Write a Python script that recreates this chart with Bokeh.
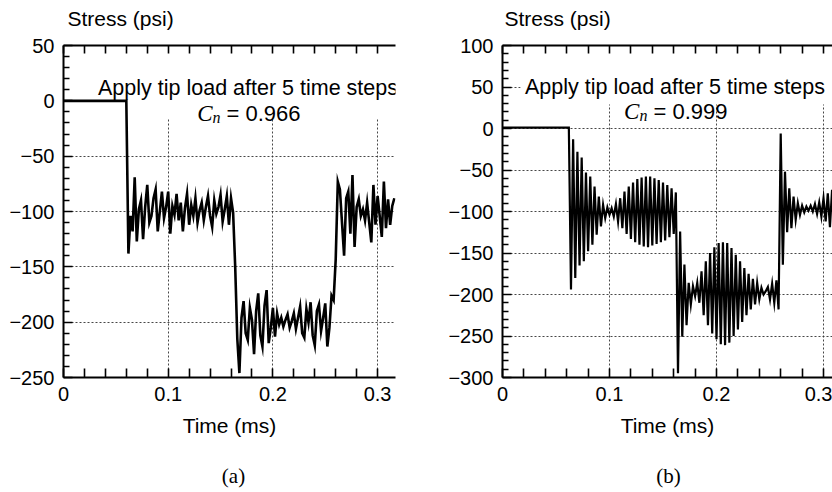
from bokeh.plotting import figure
from bokeh.models import LinearAxis, FixedTicker, Range1d, Label, BoxAnnotation, ColumnDataSource
from bokeh.layouts import row, column
from bokeh.embed import file_html
from bokeh.resources import INLINE

# ---------------- data ----------------
TIME_STEP_MS = 0.002

# Panel (a): C_n = 0.966
STRESS_A = [
    0, 0, 0, 0, 0, 0, 0, 0, 0, 0,
    0, 0, 0, 0, 0, 0, 0, 0, 0, 0,
    0, 0, 0, 0, 0, 0, 0, 0, 0, 0,
    0, -138, -104, -118, -69, -127, -98, -90, -125, -96,
    -76, -110, -104, -88, -80, -118, -100, -82, -106, -96,
    -82, -120, -95, -103, -84, -108, -92, -118, -97, -84,
    -112, -94, -104, -88, -110, -99, -92, -108, -96, -86,
    -104, -114, -90, -102, -96, -85, -109, -98, -86, -112,
    -88, -101, -150, -215, -246, -196, -181, -210, -216, -187,
    -198, -229, -190, -174, -212, -222, -185, -171, -219, -205,
    -187, -213, -192, -202, -196, -204, -198, -193, -205, -199,
    -192, -206, -196, -186, -210, -214, -188, -200, -182, -212,
    -221, -190, -184, -208, -196, -183, -222, -205, -176, -180,
    -143, -73, -80, -110, -140, -88, -82, -120, -67, -132,
    -96, -89, -104, -98, -108, -92, -110, -128, -76, -112,
    -86, -104, -123, -73, -115, -89, -112, -95, -88,
]

# Panel (b): C_n = 0.999
STRESS_B = [
    1, 1, 1, 1, 1, 1, 1, 1, 1, 1,
    1, 1, 1, 1, 1, 1, 1, 1, 1, 1,
    1, 1, 1, 1, 1, 1, 1, 1, 1, 1,
    1, 1, -194, -13, -180, -28, -165, -35, -160, -53,
    -148, -58, -140, -70, -128, -82, -118, -92, -108, -95,
    -104, -96, -106, -91, -112, -84, -120, -76, -127, -70,
    -133, -65, -137, -61, -140, -59, -142, -58, -143, -58,
    -141, -60, -139, -62, -137, -65, -135, -68, -131, -72,
    -127, -77, -295, -124, -251, -164, -237, -186, -212, -190,
    -202, -186, -210, -172, -225, -160, -237, -150, -247, -143,
    -254, -138, -260, -137, -261, -138, -258, -144, -250, -152,
    -242, -160, -233, -168, -225, -175, -218, -181, -212, -186,
    -206, -192, -200, -196, -191, -206, -187, -210, -183, -218,
    -6, -164, -52, -125, -72, -120, -82, -110, -90, -104,
    -93, -101, -94, -99, -93, -100, -91, -103, -89, -106,
    -84, -112, -78, -119, -74, -122,
]

X_TICKS = [0, 0.1, 0.2, 0.3]
X_TICK_LABELS = ["0", "0.1", "0.2", "0.3"]
X_MINOR_TICKS = [0.02, 0.04, 0.06, 0.08, 0.12, 0.14, 0.16, 0.18,
                 0.22, 0.24, 0.26, 0.28, 0.32]

Y_TICKS_A = [50, 0, -50, -100, -150, -200, -250]
Y_TICK_LABELS_A = ["50", "0", "\u221250", "\u2212100", "\u2212150", "\u2212200", "\u2212250"]
Y_TICKS_B = [100, 50, 0, -50, -100, -150, -200, -250, -300]
Y_TICK_LABELS_B = ["100", "50", "0", "\u221250", "\u2212100", "\u2212150",
                   "\u2212200", "\u2212250", "\u2212300"]

TITLE = "Apply tip load after 5 time steps"
CN_A = "= 0.966"
CN_B = "= 0.999"
Y_LABEL = "Stress (psi)"
X_LABEL = "Time (ms)"

SANS = "Liberation Sans"
SERIF = "Liberation Serif"

TOP_H = 30
MAIN_H = 420
BOT_H = 42


def minor_y(ticks):
    lo, hi = min(ticks), max(ticks)
    return [v for v in range(lo, hi + 1, 10) if v % 50 != 0]


def text_strip(width, height, text, x, y, align, font, size):
    """A bare canvas (pixel coordinates, y up) holding one line of text."""
    s = figure(width=width, height=height, output_backend="svg", toolbar_location=None,
               x_range=Range1d(0, width), y_range=Range1d(0, height),
               x_axis_type=None, y_axis_type=None, title=None,
               min_border=0, min_border_left=0, min_border_right=0,
               min_border_top=0, min_border_bottom=0)
    s.outline_line_color = None
    s.background_fill_color = "white"
    s.border_fill_color = "white"
    s.add_layout(Label(x=x, y=y, text=text, text_align=align, text_baseline="alphabetic",
                       text_font=font, text_font_size=size, text_color="black"))
    return s


def make_panel(stress, yticks, ylabels, xr, yr, width, border_left, border_right,
               border_top, border_bottom, box_left, box_bottom,
               title_xy, cn_xy, cn_text, lw):
    t = [round(i * TIME_STEP_MS, 4) for i in range(len(stress))]
    src = ColumnDataSource(dict(t=t, s=stress))

    p = figure(width=width, height=MAIN_H, output_backend="svg", toolbar_location=None,
               x_range=Range1d(*xr), y_range=Range1d(*yr), title=None,
               min_border_left=border_left, min_border_right=border_right,
               min_border_top=border_top, min_border_bottom=border_bottom)
    p.outline_line_color = None
    p.background_fill_color = "white"
    p.border_fill_color = "white"

    # grids
    p.xgrid.ticker = FixedTicker(ticks=[v for v in X_TICKS if v != 0])
    p.ygrid.ticker = FixedTicker(ticks=yticks[1:-1])
    for g in (p.xgrid[0], p.ygrid[0]):
        g.grid_line_color = "#333333"
        g.grid_line_dash = "2 2"
        g.grid_line_width = 1
        g.grid_line_alpha = 0.9

    # white box behind annotation text
    p.add_layout(BoxAnnotation(left=box_left, bottom=box_bottom, fill_color="white",
                               fill_alpha=1.0, line_color=None, level="underlay"))

    # bottom axis
    xa = p.xaxis[0]
    xa.ticker = FixedTicker(ticks=X_TICKS, minor_ticks=X_MINOR_TICKS)
    xa.major_label_overrides = dict(zip(X_TICKS, X_TICK_LABELS))
    xa.axis_label = X_LABEL
    xa.axis_label_standoff = 10
    xa.axis_label_text_font = SANS
    xa.axis_label_text_font_size = "21px"
    xa.axis_label_text_font_style = "normal"
    xa.axis_label_text_color = "black"

    # left axis
    ya = p.yaxis[0]
    ya.ticker = FixedTicker(ticks=yticks, minor_ticks=minor_y(yticks))
    ya.major_label_overrides = dict(zip(yticks, ylabels))

    for ax in (xa, ya):
        ax.axis_line_width = 2
        ax.axis_line_color = "black"
        ax.major_tick_in = 9
        ax.major_tick_out = 0
        ax.minor_tick_out = 0
        ax.major_tick_line_width = 1.6
        ax.minor_tick_line_width = 1.6
        ax.major_tick_line_color = "black"
        ax.minor_tick_line_color = "black"
        ax.major_label_text_font = SANS
        ax.major_label_text_font_size = "20px"
        ax.major_label_text_color = "black"
        ax.major_label_standoff = 9
    xa.minor_tick_in = 9
    ya.minor_tick_in = 6

    # top axis (ticks only)
    top = LinearAxis(ticker=FixedTicker(ticks=X_TICKS, minor_ticks=X_MINOR_TICKS))
    top.major_label_overrides = {v: "" for v in X_TICKS}
    top.major_label_standoff = 0
    top.major_label_text_font_size = "8px"
    top.axis_line_width = 2
    top.major_tick_in = 8
    top.major_tick_out = 0
    top.minor_tick_in = 8
    top.minor_tick_out = 0
    top.major_tick_line_width = 1.6
    top.minor_tick_line_width = 1.6
    p.add_layout(top, "above")

    p.line("t", "s", source=src, line_color="black", line_width=lw, line_join="miter")

    # annotation text
    p.add_layout(Label(x=title_xy[0], y=title_xy[1], text=TITLE, text_align="center",
                       text_baseline="alphabetic", text_font=SANS, text_font_size="21.5px",
                       text_color="black"))
    p.add_layout(Label(x=cn_xy[0], y=cn_xy[1], text="C", text_align="right",
                       text_baseline="alphabetic", text_font=SERIF, text_font_style="italic",
                       text_font_size="23px", text_color="black"))
    p.add_layout(Label(x=cn_xy[0], y=cn_xy[1], y_offset=-4, text="n", text_align="left",
                       text_baseline="alphabetic", text_font=SERIF, text_font_style="italic",
                       text_font_size="16px", text_color="black"))
    p.add_layout(Label(x=cn_xy[0], y=cn_xy[1], x_offset=14, text=cn_text, text_align="left",
                       text_baseline="alphabetic", text_font=SANS, text_font_size="22px",
                       text_color="black"))
    return p


# frame: (a) x 63..395, y 44..378 ; (b) x 502..832, y 45..377 (page pixels)
pa = make_panel(STRESS_A, Y_TICKS_A, Y_TICK_LABELS_A, (0, 0.3171), (-250, 50),
                width=440, border_left=63, border_right=45,
                border_top=44 - TOP_H, border_bottom=TOP_H + MAIN_H - 378,
                box_left=0.03, box_bottom=-16,
                title_xy=(0.1762, 11.6), cn_xy=(0.1423, -11.6), cn_text=CN_A, lw=2.6)

pb = make_panel(STRESS_B, Y_TICKS_B, Y_TICK_LABELS_B, (0, 0.3084), (-300, 100),
                width=392, border_left=62, border_right=0,
                border_top=45 - TOP_H, border_bottom=TOP_H + MAIN_H - 377,
                box_left=0.017, box_bottom=29,
                title_xy=(0.1612, 49.5), cn_xy=(0.128, 20.5), cn_text=CN_B, lw=2.2)

top_a = text_strip(440, TOP_H, Y_LABEL, 67, 12, "left", SANS, "21px")
top_b = text_strip(392, TOP_H, Y_LABEL, 64, 12, "left", SANS, "21px")
cap_a = text_strip(440, BOT_H, "(a)", 233, 17, "center", SERIF, "21px")
cap_b = text_strip(392, BOT_H, "(b)", 228, 17, "center", SERIF, "21px")

layout = column(row(top_a, top_b), row(pa, pb), row(cap_a, cap_b))
open("out.html", "w").write(file_html(layout, INLINE))
